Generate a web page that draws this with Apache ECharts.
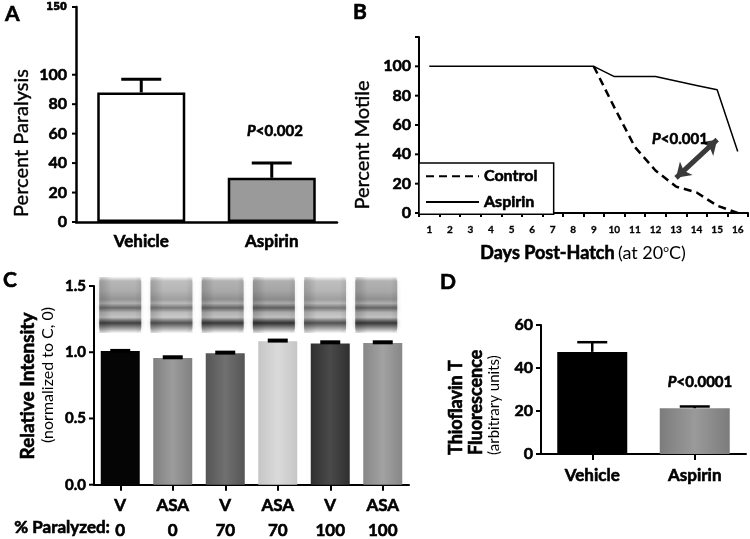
<!DOCTYPE html>
<html>
<head>
<meta charset="utf-8">
<script src="https://cdn.jsdelivr.net/npm/echarts@6/dist/echarts.min.js"></script>
<style>
  html, body { margin: 0; padding: 0; background: #fff; }
  #chart { width: 750px; height: 539px; }
</style>
</head>
<body>
<div id="chart"></div>
<script>
// ---- Panel A: paralysis ----
const paraGroups = ['Vehicle', 'Aspirin']
const paraMean = [88, 30]
const paraErr = [9, 10]
const paraTicks = [0, 20, 40, 60, 80, 100]
const paraTopLabel = '150'
const paraAxisTop = 146   // broken axis: top tick reads 150

// ---- Panel B: motility ----
const days = ['1', '2', '3', '4', '5', '6', '7', '8', '9', '10', '11', '12', '13', '14', '15', '16']
const controlMotile = ['-', '-', '-', '-', '-', '-', '-', '-', 100, 72, 45, 29, 18, 14, 5, 0]
const aspirinMotile = [100, 100, 100, 100, 100, 100, 100, 100, 100, 93, 93, 93, 90, 87, 84, 42]
const motileTicks = [0, 20, 40, 60, 80, 100]
const motileTickMarks = [0, 20, 40, 60, 80, 100, 120]

// ---- Panel C: relative intensity ----
const blotTreat = ['V', 'ASA', 'V', 'ASA', 'V', 'ASA']
const blotParalyzed = ['0', '0', '70', '70', '100', '100']
const blotMean = [1.01, 0.957, 0.992, 1.083, 1.065, 1.07]
const blotErr = [0, 0.005, 0.005, 0.005, 0.01, 0.005]
const blotTicks = [0, 0.5, 1.0, 1.5]

// ---- Panel D: thioflavin T ----
const thtGroups = ['Vehicle', 'Aspirin']
const thtMean = [47.5, 21.3]
const thtErr = [4.5, 0.8]
const thtTicks = [0, 20, 40, 60]

const FONT = 'Lato'

const chart = echarts.init(document.getElementById('chart'))

const errorBars = (capHalf, lw) => (params, api) => {
  const x = api.value(0)
  const lo = api.coord([x, api.value(1)])
  const hi = api.coord([x, api.value(2)])
  return {
    type: 'group',
    children: [
      { type: 'line', shape: { x1: lo[0], y1: lo[1], x2: hi[0], y2: hi[1] }, style: { stroke: '#000', lineWidth: lw } },
      { type: 'line', shape: { x1: hi[0] - capHalf, y1: hi[1], x2: hi[0] + capHalf, y2: hi[1] }, style: { stroke: '#000', lineWidth: lw } }
    ]
  }
}

// tick marks placed through the axes' own scales
const tickLine = (x1, y1, x2, y2) => ({
  type: 'line', shape: { x1, y1, x2, y2 }, style: { stroke: '#000', lineWidth: 2 }
})
const xTickMarks = (len, boundary) => (params, api) => {
  const p = api.coord([api.value(0), 0])
  const half = boundary ? api.size([1, 0])[0] / 2 : 0
  const xs = boundary ? [p[0] - half] : [p[0]]
  if (boundary && api.value(1)) xs.push(p[0] + half)
  return { type: 'group', children: xs.map(x => tickLine(x, p[1], x, p[1] + len)) }
}
const yTickMarks = (len) => (params, api) => {
  const p = api.coord([0, api.value(1)])
  const x = p[0] - api.size([1, 0])[0] / 2
  return { type: 'group', children: [tickLine(x - len, p[1], x, p[1])] }
}
const tickSeries = (axis, renderItem, data) => ({
  type: 'custom', xAxisIndex: axis, yAxisIndex: axis, z: 5, clip: false, silent: true,
  renderItem, data
})

const hGrad = (edge, mid) => new echarts.graphic.LinearGradient(0, 0, 1, 0, [
  { offset: 0, color: edge },
  { offset: 0.5, color: mid },
  { offset: 1, color: edge }
])

const blotColors = [
  '#050505',
  hGrad('#808080', '#9c9c9c'),
  hGrad('#555555', '#707070'),
  hGrad('#c6c6c6', '#dadada'),
  hGrad('#2f2f2f', '#4a4a4a'),
  hGrad('#878787', '#a2a2a2')
]

// heavy labels: bold face thickened with a thin same-colour outline
const heavy = { fontFamily: FONT, fontWeight: 'bold', color: '#000', textBorderColor: '#000', textBorderWidth: 0.6 }
const tickLabel = (size) => ({ ...heavy, fontSize: size })
const axisLine = (w) => ({ show: true, onZero: false, lineStyle: { color: '#000', width: w } })
const nativeTick = (len, center) => ({
  show: true, alignWithLabel: center, length: len, lineStyle: { color: '#000', width: 2 }
})

const option = {
  animation: false,
  backgroundColor: '#fff',
  textStyle: { fontFamily: FONT },
  legend: {
    data: ['Control', 'Aspirin'],
    orient: 'vertical',
    left: 419,
    top: 163,
    padding: [5, 16, 4, 6],
    itemWidth: 53,
    itemHeight: 14,
    itemGap: 9,
    itemStyle: { opacity: 0 },
    backgroundColor: '#fff',
    borderColor: '#000',
    borderWidth: 1.5,
    textStyle: { ...heavy, fontSize: 16 }
  },
  grid: [
    { left: 76, top: 7, width: 261, height: 215 },
    { left: 419, top: 37, width: 329, height: 176 },
    { left: 94, top: 286, width: 315, height: 200 },
    { left: 541, top: 325, width: 205, height: 129 }
  ],
  xAxis: [
    {
      gridIndex: 0, type: 'category', data: paraGroups,
      axisLine: axisLine(2.5), axisTick: { show: false },
      axisLabel: { ...tickLabel(17), margin: 11 }
    },
    {
      gridIndex: 1, type: 'category', data: days,
      axisLine: axisLine(2), axisTick: nativeTick(4, false),
      axisLabel: { ...tickLabel(10), textBorderWidth: 0.3, margin: 12, interval: 0 }
    },
    {
      gridIndex: 2, type: 'category',
      data: blotTreat.map((t, i) => t + ' ' + blotParalyzed[i]),
      axisLine: axisLine(2), axisTick: nativeTick(6, true),
      axisLabel: {
        margin: 8,
        interval: 0,
        formatter: (v, i) => `{t|${blotTreat[i]}}\n{p|${blotParalyzed[i]}}`,
        rich: {
          t: { ...tickLabel(17), lineHeight: 25 },
          p: { ...tickLabel(17), lineHeight: 25 }
        }
      }
    },
    {
      gridIndex: 3, type: 'category', data: thtGroups,
      axisLine: axisLine(2), axisTick: nativeTick(6, true),
      axisLabel: { ...tickLabel(17), margin: 13 }
    }
  ],
  yAxis: [
    {
      gridIndex: 0, type: 'value', min: 0, max: paraAxisTop,
      axisLine: axisLine(2.5), axisTick: { show: false }, splitLine: { show: false },
      axisLabel: {
        ...tickLabel(16), margin: 9,
        customValues: [...paraTicks, paraAxisTop],
        formatter: v => (v === paraAxisTop ? `{s|${paraTopLabel}}` : String(v)),
        rich: { s: { fontFamily: 'DejaVu Sans Condensed', fontWeight: 'bold', fontSize: 11, color: '#000' } }
      }
    },
    {
      gridIndex: 1, type: 'value', min: 0, max: 120, interval: 20,
      axisLine: axisLine(2), axisTick: { show: false }, splitLine: { show: false },
      axisLabel: { ...tickLabel(16), margin: 8, customValues: motileTicks }
    },
    {
      gridIndex: 2, type: 'value', min: 0, max: 1.5,
      axisLine: axisLine(2), axisTick: { show: false }, splitLine: { show: false },
      axisLabel: { ...tickLabel(15), margin: 8, customValues: blotTicks, formatter: v => v.toFixed(1) }
    },
    {
      gridIndex: 3, type: 'value', min: 0, max: 60,
      axisLine: axisLine(2), axisTick: { show: false }, splitLine: { show: false },
      axisLabel: { ...tickLabel(16), margin: 8, customValues: thtTicks }
    }
  ],
  series: [
    {
      name: 'paralysis', type: 'bar', xAxisIndex: 0, yAxisIndex: 0, barWidth: 88,
      data: paraMean.map((v, i) => ({
        value: v,
        itemStyle: { color: ['#ffffff', '#9a9a9a'][i], borderColor: '#000', borderWidth: 2.5 }
      }))
    },
    {
      type: 'custom', xAxisIndex: 0, yAxisIndex: 0, z: 3,
      renderItem: errorBars(20, 3),
      data: paraMean.map((v, i) => [i, v, v + paraErr[i]])
    },
    {
      name: 'Control', type: 'line', xAxisIndex: 1, yAxisIndex: 1,
      data: controlMotile, symbol: 'none', color: '#000',
      lineStyle: { color: '#000', width: 2.5, type: [8, 5] },
      markLine: {
        silent: true,
        symbol: ['arrow', 'arrow'],
        symbolSize: [14, 14],
        label: { show: false },
        lineStyle: { color: '#3a3a3a', width: 5, type: 'solid' },
        data: [[{ coord: ['13', 24] }, { coord: ['15', 50] }]]
      }
    },
    {
      name: 'Aspirin', type: 'line', xAxisIndex: 1, yAxisIndex: 1, z: 4,
      data: aspirinMotile, symbol: 'none', color: '#000',
      lineStyle: { color: '#000', width: 1.5, type: 'solid' }
    },
    {
      name: 'intensity', type: 'bar', xAxisIndex: 2, yAxisIndex: 2, barWidth: 39,
      data: blotMean.map((v, i) => ({ value: v, itemStyle: { color: blotColors[i] } }))
    },
    {
      type: 'custom', xAxisIndex: 2, yAxisIndex: 2, z: 3,
      renderItem: errorBars(10, 4),
      data: blotMean.map((v, i) => [i, v, v + blotErr[i]])
    },
    {
      name: 'tht', type: 'bar', xAxisIndex: 3, yAxisIndex: 3, barWidth: 70,
      data: thtMean.map((v, i) => ({
        value: v,
        itemStyle: { color: ['#000000', hGrad('#7c7c7c', '#9a9a9a')][i] }
      }))
    },
    {
      type: 'custom', xAxisIndex: 3, yAxisIndex: 3, z: 3,
      renderItem: errorBars(15, 2.5),
      data: thtMean.map((v, i) => [i, v, v + thtErr[i]])
    },
    // y-axis ticks
    tickSeries(0, yTickMarks(4), [...paraTicks, paraAxisTop].map(v => [0, v])),
    tickSeries(1, yTickMarks(4), motileTickMarks.map(v => [0, v])),
    tickSeries(2, yTickMarks(5), blotTicks.map(v => [0, v])),
    tickSeries(3, yTickMarks(5), thtTicks.map(v => [0, v]))
  ]
}

chart.setOption(option)

// annotation text, panel letters, rotated axis titles (zrender style names)
const heavyStyle = (size) => ({
  fontFamily: FONT, fontWeight: 'bold', fontSize: size, fill: '#000', stroke: '#000', lineWidth: 0.6
})
const regular = (size, w) => ({ fontFamily: FONT, fontSize: size, fill: '#000', stroke: '#000', lineWidth: w || 0 })
const letter = (t, x, y) => ({
  type: 'text', x, y, z: 10,
  style: { text: t, ...heavyStyle(21) }
})
const pText = (t, x, y) => ({
  type: 'text', x, y, z: 10,
  style: {
    text: `{i|P}{n|${t}}`, align: 'center', verticalAlign: 'middle',
    rich: {
      i: { ...heavyStyle(15), fontStyle: 'italic' },
      n: heavyStyle(15)
    }
  }
})
const vTitle = (t, x, y, st, align) => ({
  type: 'text', x, y, rotation: Math.PI / 2, z: 10,
  style: { text: t, ...st, align: align || 'center', verticalAlign: 'middle' }
})

// western-blot lanes drawn over panel C, one per bar
const laneShade = [0.9, 0.8, 0.95, 1.0, 0.8, 0.95]
const lanes = []
blotMean.forEach((v, i) => {
  const cx = chart.convertToPixel({ xAxisIndex: 2 }, i) - i * 1.3
  const k = laneShade[i]
  const a = (x) => `rgba(25,25,25,${Math.min(1, x * k).toFixed(2)})`
  lanes.push({
    type: 'rect', z: 1,
    shape: { x: cx - 21, y: 277, width: 42, height: 56, r: 5 },
    style: {
      fill: new echarts.graphic.LinearGradient(0, 0, 0, 1, [
        { offset: 0, color: a(0.04) },
        { offset: 0.07, color: a(0.28) },
        { offset: 0.25, color: a(0.32) },
        { offset: 0.4, color: a(0.42) },
        { offset: 0.47, color: a(0.3) },
        { offset: 0.55, color: a(0.62) },
        { offset: 0.63, color: a(0.3) },
        { offset: 0.72, color: a(0.22) },
        { offset: 0.82, color: a(0.85) },
        { offset: 0.9, color: a(0.45) },
        { offset: 1, color: a(0.02) }
      ]),
      shadowBlur: 5,
      shadowColor: 'rgba(0,0,0,0.3)'
    }
  })
  // darker left shoulder of each lane
  lanes.push({
    type: 'rect', z: 1,
    shape: { x: cx - 21, y: 277, width: 42, height: 56 },
    style: {
      fill: new echarts.graphic.LinearGradient(0, 0, 1, 0, [
        { offset: 0, color: 'rgba(0,0,0,0.18)' },
        { offset: 0.3, color: 'rgba(0,0,0,0)' },
        { offset: 0.85, color: 'rgba(0,0,0,0)' },
        { offset: 1, color: 'rgba(0,0,0,0.1)' }
      ])
    }
  })
})

chart.setOption({
  graphic: [
    letter('A', 5, 4),
    letter('B', 353, 2),
    letter('C', 3, 270),
    letter('D', 440, 272),
    pText('<0.002', 275, 131),
    pText('<0.001', 680, 139),
    pText('<0.0001', 700, 382),
    vTitle('Percent Paralysis', 22, 143, regular(20, 0.4)),
    vTitle('Percent Motile', 363, 145, regular(20, 0.4)),
    vTitle('Relative Intensity', 28, 386, heavyStyle(19)),
    vTitle('(normalized to C, 0)', 48, 375, regular(16)),
    vTitle('Thioflavin T', 456, 455, heavyStyle(18), 'left'),
    vTitle('Fluorescence', 476, 455, heavyStyle(18), 'left'),
    vTitle('(arbitrary units)', 494, 455, regular(15), 'left'),
    {
      type: 'text', x: 110, y: 528, z: 10,
      style: { text: '% Paralyzed:', ...heavyStyle(17), align: 'right', verticalAlign: 'middle' }
    },
    {
      type: 'text', x: 583, y: 253, z: 10,
      style: {
        text: '{b|Days Post-Hatch} {r|(at 20}{s|o}{r|C)}',
        align: 'center', verticalAlign: 'middle',
        rich: {
          b: heavyStyle(18),
          r: regular(18),
          s: { ...regular(10), padding: [0, 0, 9, 0] }
        }
      }
    },
    ...lanes
  ]
})

window.addEventListener('resize', () => chart.resize())
</script>
</body>
</html>
